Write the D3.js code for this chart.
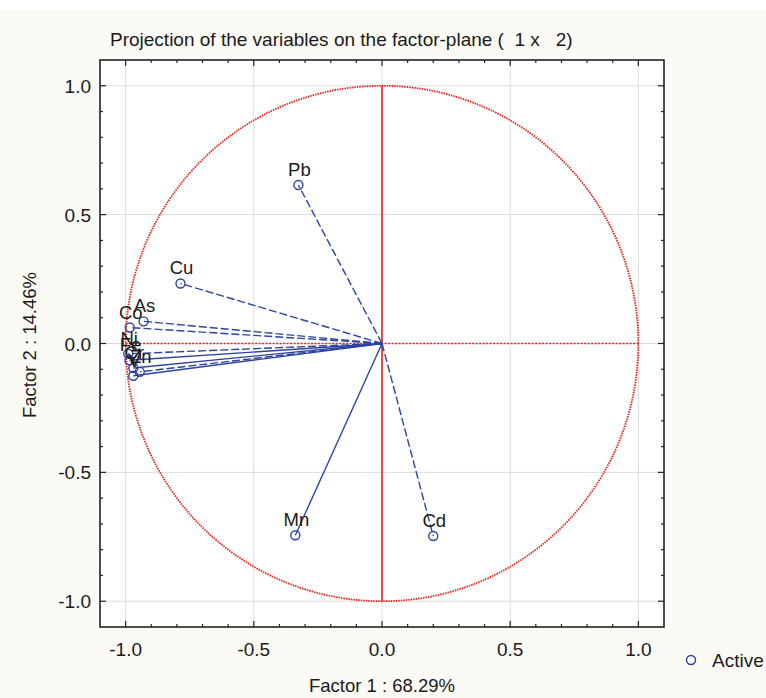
<!DOCTYPE html>
<html>
<head>
<meta charset="utf-8">
<script src="https://cdn.jsdelivr.net/npm/d3@7"></script>
<style>
  body { margin: 0; background: #fff; }
  text { font-family: "Liberation Sans", Arial, sans-serif; fill: #1a1a1a; white-space: pre; }
</style>
</head>
<body>
<script>
var width = 766,
  height = 698;

// variables and their loadings on factor 1 / factor 2
var names = ["Pb", "Cu", "As", "Co", "Ni", "Fe", "Cr", "Zn", "V", "Mn", "Cd"];
var factor1 = [-0.326, -0.786, -0.930, -0.984, -0.990, -0.985, -0.970, -0.945, -0.970, -0.338, 0.200];
var factor2 = [0.615, 0.233, 0.086, 0.062, -0.040, -0.065, -0.095, -0.110, -0.125, -0.744, -0.747];

var majorTicks = [-1.0, -0.5, 0.0, 0.5, 1.0];
var title = "Projection of the variables on the factor-plane (  1 x   2)";
var xTitle = "Factor 1 : 68.29%";
var yTitle = "Factor 2 : 14.46%";
var legendLabel = "Active";

// drawn solid, everything else dashed
var solidOnes = ["Mn", "Fe", "Cr", "V"];

var blue = "#2c43a0",
  red = "#e5231d";

var fmt = function (d) { return d3.format(".1f")(d).replace("\u2212", "-"); };

var svg = d3.select("body").append("svg")
  .attr("width", width)
  .attr("height", height)

// cream panel
svg.append("rect")
  .attr("x", 0).attr("y", 10)
  .attr("width", width).attr("height", height - 10)
  .attr("fill", "#fbfaf5");

var pLeft = 100, pRight = 664, pTop = 60, pBottom = 627;

var x = d3.scaleLinear().domain([-1.1, 1.1]).range([pLeft, pRight]);
var y = d3.scaleLinear().domain([-1.1, 1.1]).range([pBottom, pTop]);

svg.append("rect")
  .attr("x", pLeft).attr("y", pTop)
  .attr("width", pRight - pLeft).attr("height", pBottom - pTop)
  .attr("fill", "#fff");

// grid
var grid = svg.append("g").attr("stroke", "#dcdcdc").attr("stroke-width", 1);
majorTicks.forEach(function (v) {
  grid.append("line")
    .attr("x1", x(v)).attr("x2", x(v))
    .attr("y1", pTop).attr("y2", pBottom);
  grid.append("line")
    .attr("y1", y(v)).attr("y2", y(v))
    .attr("x1", pLeft).attr("x2", pRight);
});

// unit circle and axes through origin
var circ = d3.range(0, 361, 1).map(function (a) {
  var r = a * Math.PI / 180;
  return [Math.cos(r), Math.sin(r)];
});
svg.append("path")
  .attr("d", d3.line().x(function (d) { return x(d[0]); }).y(function (d) { return y(d[1]); })(circ))
  .attr("fill", "none")
  .attr("stroke", red)
  .attr("stroke-width", 1.8)
  .attr("stroke-dasharray", "1.5,1");

svg.append("line")
  .attr("x1", x(-1)).attr("x2", x(1))
  .attr("y1", y(0)).attr("y2", y(0))
  .attr("stroke", red).attr("stroke-width", 1.4)
  .attr("stroke-dasharray", "2,1.5");

svg.append("line")
  .attr("x1", x(0)).attr("x2", x(0))
  .attr("y1", y(1)).attr("y2", y(-1))
  .attr("stroke", red).attr("stroke-width", 1.6);

// vectors
var pts = names.map(function (n, i) { return { name: n, f1: factor1[i], f2: factor2[i] }; });

svg.append("g")
  .selectAll("line")
  .data(pts)
  .enter()
  .append("line")
  .attr("x1", x(0)).attr("y1", y(0))
  .attr("x2", function (d) { return x(d.f1); })
  .attr("y2", function (d) { return y(d.f2); })
  .attr("stroke", blue)
  .attr("stroke-width", 1.4)
  .attr("stroke-dasharray", function (d) { return solidOnes.indexOf(d.name) >= 0 ? null : "8,3"; });

svg.append("g")
  .selectAll("circle")
  .data(pts)
  .enter()
  .append("circle")
  .attr("cx", function (d) { return x(d.f1); })
  .attr("cy", function (d) { return y(d.f2); })
  .attr("r", 4.5)
  .attr("fill", "none")
  .attr("stroke", blue)
  .attr("stroke-width", 1.4);

svg.append("g")
  .selectAll("text")
  .data(pts)
  .enter()
  .append("text")
  .attr("x", function (d) { return x(d.f1) + 1; })
  .attr("y", function (d) { return y(d.f2) - 9; })
  .attr("text-anchor", "middle")
  .style("font-size", "18.5px")
  .text(function (d) { return d.name; });

// frame
svg.append("rect")
  .attr("x", pLeft).attr("y", pTop)
  .attr("width", pRight - pLeft).attr("height", pBottom - pTop)
  .attr("fill", "none")
  .attr("stroke", "#222")
  .attr("stroke-width", 1.6);

// inward ticks, minor every 0.1
var tickVals = d3.range(-10, 11).map(function (i) { return i / 10; });
var tg = svg.append("g").attr("stroke", "#222").attr("stroke-width", 1.2);
tickVals.forEach(function (v) {
  var major = Math.abs(Math.round(v * 10) % 5) === 0;
  var len = major ? 6 : 3;
  tg.append("line").attr("x1", x(v)).attr("x2", x(v)).attr("y1", pBottom).attr("y2", pBottom - len);
  tg.append("line").attr("x1", x(v)).attr("x2", x(v)).attr("y1", pTop).attr("y2", pTop + len);
  tg.append("line").attr("y1", y(v)).attr("y2", y(v)).attr("x1", pLeft).attr("x2", pLeft + len);
  tg.append("line").attr("y1", y(v)).attr("y2", y(v)).attr("x1", pRight).attr("x2", pRight - len);
});

// tick labels
svg.append("g")
  .selectAll("text")
  .data(majorTicks)
  .enter()
  .append("text")
  .attr("x", function (d) { return x(d); })
  .attr("y", 656)
  .attr("text-anchor", "middle")
  .style("font-size", "19px")
  .text(fmt);

svg.append("g")
  .selectAll("text")
  .data(majorTicks)
  .enter()
  .append("text")
  .attr("x", 91)
  .attr("y", function (d) { return y(d) + 7; })
  .attr("text-anchor", "end")
  .style("font-size", "19px")
  .text(fmt);

// titles
svg.append("text")
  .attr("x", 110).attr("y", 46)
  .style("font-size", "19px")
  .text(title);

svg.append("text")
  .attr("x", x(0)).attr("y", 692)
  .attr("text-anchor", "middle")
  .style("font-size", "18.5px")
  .text(xTitle);

svg.append("text")
  .attr("transform", "translate(36," + 345 + ") rotate(-90)")
  .attr("text-anchor", "middle")
  .style("font-size", "18.5px")
  .text(yTitle);

// legend
svg.append("circle")
  .attr("cx", 691).attr("cy", 660).attr("r", 4.5)
  .attr("fill", "none").attr("stroke", blue).attr("stroke-width", 1.4);
svg.append("text")
  .attr("x", 712).attr("y", 667)
  .style("font-size", "19px")
  .text(legendLabel);
</script>
</body>
</html>
